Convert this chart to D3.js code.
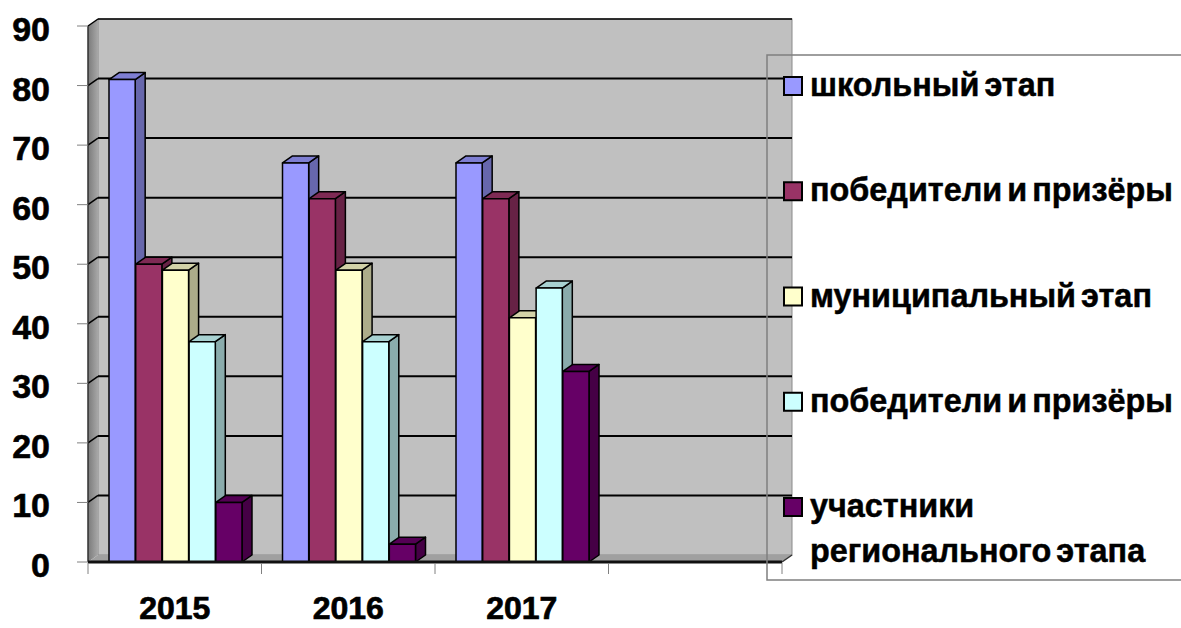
<!DOCTYPE html>
<html>
<head>
<meta charset="utf-8">
<script src="https://cdn.jsdelivr.net/npm/d3@7"></script>
<style>
	html, body { margin: 0; padding: 0; background: #fff; }
	svg { display: block; }
	text { font-family: "Liberation Sans", Arial, sans-serif; font-weight: bold; fill: #000; }
</style>
</head>
<body>
<svg id="chart" width="1181" height="628"></svg>
<script>
// categories (the 4th slot is empty in the original chart)
const years = ['2015', '2016', '2017', '']
const yTicks = [0, 10, 20, 30, 40, 50, 60, 70, 80, 90]

const seriesNames = [
	'школьный этап',
	'победители и призёры',
	'муниципальный этап',
	'победители и призёры',
	'участники\nрегионального этапа',
]
const seriesColors = ['#9999ff', '#993366', '#ffffcc', '#ccffff', '#660066']

const schoolStage = [81, 67, 67]
const schoolWinners = [50, 61, 61]
const municipalStage = [49, 49, 41]
const municipalWinners = [37, 37, 46]
const regionalStage = [10, 3, 32]

const seriesValues = [schoolStage, schoolWinners, municipalStage, municipalWinners, regionalStage]

const svg = d3.select('#chart')

// 3d depth offset of the walls / bars
const DX = 10
const DY = -7

const x = d3.scaleBand().domain(years).range([88, 782])
const xs = d3.scaleBand().domain(d3.range(seriesNames.length)).range([21, 154]).paddingInner(0.02)
const y = d3.scaleLinear().domain([0, 90]).range([562, 26])

const x0 = x.range()[0]
const x1 = x.range()[1]

const defs = svg.append('defs')
const grad = defs.append('linearGradient').attr('id', 'sideWall')
grad.append('stop').attr('offset', '0%').attr('stop-color', '#7a7a7a')
grad.append('stop').attr('offset', '100%').attr('stop-color', '#a8a8a8')

const poly = pts => 'M' + pts.map(p => p.join(',')).join('L') + 'Z'

// back wall
svg.append('rect')
	.attr('x', x0 + DX).attr('y', y(90) + DY)
	.attr('width', x1 - x0).attr('height', y(0) - y(90))
	.attr('fill', '#c0c0c0')
	.attr('stroke', '#8a8a8a')

// left wall
svg.append('path')
	.attr('d', poly([[x0, y(90)], [x0 + DX, y(90) + DY], [x0 + DX, y(0) + DY], [x0, y(0)]]))
	.attr('fill', 'url(#sideWall)')

// floor
svg.append('path')
	.attr('d', poly([[x0, y(0)], [x0 + DX, y(0) + DY], [x1 + DX, y(0) + DY], [x1, y(0)]]))
	.attr('fill', '#a0a0a0')

// gridlines on back + left wall
const grid = svg.append('g')
yTicks.filter(d => d > 0).forEach(d => {
	grid.append('line')
		.attr('x1', x0 + DX).attr('x2', x1 + DX)
		.attr('y1', y(d) + DY).attr('y2', y(d) + DY)
		.attr('stroke', '#000').attr('stroke-width', d === 90 ? 1.5 : 2)
	grid.append('line')
		.attr('x1', x0).attr('x2', x0 + DX)
		.attr('y1', y(d)).attr('y2', y(d) + DY)
		.attr('stroke', '#000').attr('stroke-width', 1.5)
})

// left wall front edge
svg.append('line')
	.attr('x1', x0).attr('x2', x0)
	.attr('y1', y(90)).attr('y2', y(0))
	.attr('stroke', '#303030').attr('stroke-width', 1.5)

// y axis tick marks + labels
const yAxis = svg.append('g')
yTicks.forEach(d => {
	yAxis.append('line')
		.attr('x1', x0 - 11).attr('x2', x0)
		.attr('y1', y(d)).attr('y2', y(d))
		.attr('stroke', '#808080')
	yAxis.append('text')
		.attr('x', 50).attr('y', y(d) + 3)
		.attr('text-anchor', 'end')
		.attr('dominant-baseline', 'central')
		.style('font-size', '34px')
		.style('stroke', '#000').style('stroke-width', 0.6)
		.text(d)
})

// bars, drawn left to right so front faces overlap the previous side faces
const bars = svg.append('g')
years.forEach((yr, ci) => {
	seriesValues.forEach((vals, si) => {
		const v = vals[ci]
		if (v === undefined) return
		const bx0 = x(yr) + xs(si)
		const bx1 = bx0 + xs.bandwidth()
		const top = y(v)
		const base = y(0)
		const c = d3.color(seriesColors[si])
		const g = bars.append('g')
			.attr('stroke', '#000').attr('stroke-width', 1.5).attr('stroke-linejoin', 'round')
		g.append('path')
			.attr('d', poly([[bx1, top], [bx1 + DX, top + DY], [bx1 + DX, base + DY], [bx1, base]]))
			.attr('fill', c.darker(1.1))
		g.append('path')
			.attr('d', poly([[bx0, top], [bx0 + DX, top + DY], [bx1 + DX, top + DY], [bx1, top]]))
			.attr('fill', c.darker(0.55))
		g.append('rect')
			.attr('x', bx0).attr('y', top)
			.attr('width', bx1 - bx0).attr('height', base - top)
			.attr('fill', c)
	})
})

// floor front edge + right end
svg.append('line')
	.attr('x1', x0).attr('x2', x1)
	.attr('y1', y(0)).attr('y2', y(0))
	.attr('stroke', '#111').attr('stroke-width', 3)
svg.append('line')
	.attr('x1', x1).attr('x2', x1 + DX)
	.attr('y1', y(0)).attr('y2', y(0) + DY)
	.attr('stroke', '#333').attr('stroke-width', 1.5)

// category ticks + labels
const xAxis = svg.append('g')
x.domain().concat(['__end']).forEach((d, i) => {
	const px = i < years.length ? x(d) : x1
	xAxis.append('line')
		.attr('x1', px).attr('x2', px)
		.attr('y1', y(0) + 1).attr('y2', y(0) + 12)
		.attr('stroke', '#808080')
})
years.forEach(d => {
	xAxis.append('text')
		.attr('x', x(d) + x.bandwidth() / 2)
		.attr('y', 608)
		.attr('text-anchor', 'middle')
		.attr('dominant-baseline', 'central')
		.style('font-size', '32px')
		.style('stroke', '#000').style('stroke-width', 0.7)
		.text(d)
})

// legend
const legend = svg.append('g')
legend.append('rect')
	.attr('x', 767).attr('y', 55)
	.attr('width', 430).attr('height', 525)
	.attr('fill', 'none')
	.attr('stroke', '#7f7f7f').attr('stroke-width', 1.5)

const legendY = d3.scaleLinear().domain([0, seriesNames.length - 1]).range([76, 497])
const legendTexts = []
seriesNames.forEach((name, i) => {
	const ly = legendY(i)
	legend.append('rect')
		.attr('x', 784).attr('y', ly + 1)
		.attr('width', 18).attr('height', 18)
		.attr('fill', seriesColors[i])
		.attr('stroke', '#000').attr('stroke-width', 2)
	name.split('\n').forEach((line, li) => {
		const t = legend.append('text')
			.attr('x', 810).attr('y', ly + 20 + li * 45)
			.style('font-size', '33px')
			.style('word-spacing', '-4px')
			.style('stroke', '#000').style('stroke-width', 0.5)
			.text(line)
		legendTexts.push(t)
	})
})

// original font is narrower than Liberation Sans: compress uniformly
const ref = legendTexts[1].node().getComputedTextLength()
const k = 363 / ref
legendTexts.forEach(t => {
	const w = t.node().getComputedTextLength()
	t.attr('textLength', w * k).attr('lengthAdjust', 'spacingAndGlyphs')
})
</script>
</body>
</html>
